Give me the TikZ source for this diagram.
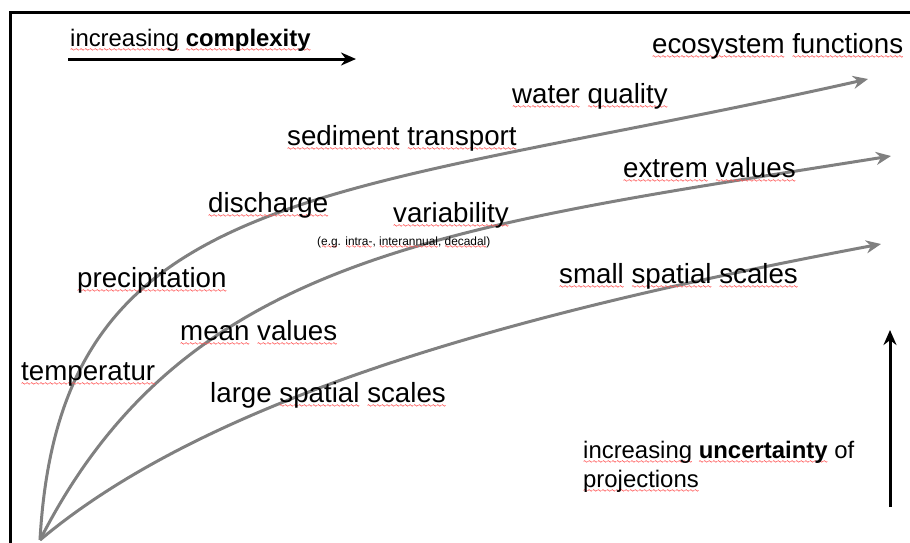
\documentclass[tikz,border=0pt]{standalone}
\usepackage{fontspec}
\setmainfont{Liberation Sans}
\usetikzlibrary{arrows.meta}
\newsavebox\wavebox
\AtBeginDocument{\sbox\wavebox{\pgfpicture
  \pgfsetstrokecolor{red!65}\pgfsetlinewidth{0.6pt}
  \pgfpathmoveto{\pgfpoint{0pt}{0pt}}
  \pgfpathsine{\pgfpoint{1pt}{0.8pt}}
  \pgfpathcosine{\pgfpoint{1pt}{-0.8pt}}
  \pgfpathsine{\pgfpoint{1pt}{-0.8pt}}
  \pgfpathcosine{\pgfpoint{1pt}{0.8pt}}
  \pgfusepath{stroke}
\endpgfpicture}}
\newcommand\wav[2]{\setbox0\hbox{#2}\leavevmode\rlap{\raisebox{-#1}{\hbox to\wd0{\xleaders\copy\wavebox\hfill}}}\box0\relax}
\newcommand\spl[1]{\wav{4.5pt}{#1}}
\newcommand\spls[1]{\wav{2.5pt}{#1}}
\begin{document}
\begin{tikzpicture}[x=1pt,y=-1pt,
  big/.style={anchor=base west,inner sep=0pt,font=\fontsize{27.7}{33}\selectfont},
  mid/.style={anchor=base west,inner sep=0pt,font=\fontsize{23.9}{29}\selectfont},
  tiny/.style={anchor=base west,inner sep=0pt,font=\fontsize{11.9}{14}\selectfont},
  curve/.style={draw={rgb,255:red,128;green,128;blue,128},line width=3pt,
    -{Stealth[length=15pt,width=13pt]}},
  blk/.style={draw=black,line width=3pt,-{Stealth[length=15pt,width=13pt]}}]
\useasboundingbox (0,0) rectangle (910,542);
% frame
\draw[line width=3pt] (10,545) -- (10,12) -- (915,12);
% complexity arrow
\node[mid] (cx) at (70,46) {\spl{increasing} \textbf{\spl{complexity}}};
\coordinate (ca) at (68,59);
\coordinate (cb) at (356,59);
\draw[blk] (ca) -- (cb);
% uncertainty arrow
\coordinate (ua) at (890,507);
\coordinate (ub) at (890,330);
\draw[blk] (ua) -- (ub);
\node[mid] (u1) at (583,458) {\spl{increasing} \textbf{\spl{uncertainty}} of};
\node[mid] (u2) at (583,487) {\spl{projections}};
% curves
\coordinate (o) at (40,540);
\coordinate (e1) at (868,79);
\coordinate (e2) at (891,156);
\coordinate (e3) at (881,244);
\draw[curve] (o) .. controls (60,180) and (330,200) .. (e1);
\draw[curve] (o) .. controls (185,255) and (445,227) .. (e2);
\draw[curve] (o) .. controls (216,392) and (536,309) .. (e3);
% labels
\node[big] (eco) at (652,53) {\spl{ecosystem} \spl{functions}};
\node[big] (wq) at (512,103) {\spl{water} \spl{quality}};
\node[big] (sed) at (287,145) {\spl{sediment} \spl{transport}};
\node[big] (ext) at (623,177) {\spl{extrem} \spl{values}};
\node[big] (dis) at (208,212) {\spl{discharge}};
\node[big] (var) at (393,222) {\spl{variability}};
\node[tiny] (eg) at (317,245) {(\spls{e.g}. \spls{intra-}, \spls{interannual}, \spls{decadal})};
\node[big] (pre) at (77,287) {\spl{precipitation}};
\node[big] (small) at (559,283) {\spl{small} \spl{spatial} \spl{scales}};
\node[big] (mean) at (180,340) {\spl{mean} \spl{values}};
\node[big] (tem) at (21,380) {\spl{temperatur}};
\node[big] (large) at (210,402) {large \spl{spatial} \spl{scales}};
\end{tikzpicture}
\end{document}
